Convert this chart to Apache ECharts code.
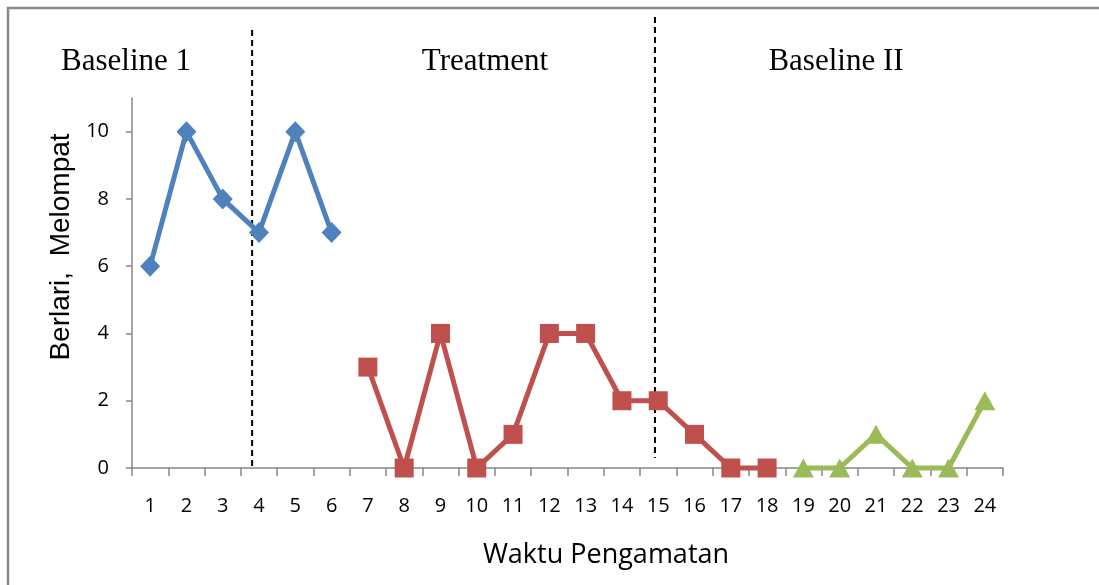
<!DOCTYPE html>
<html>
<head>
<meta charset="utf-8">
<script src="https://cdn.jsdelivr.net/npm/echarts@6/dist/echarts.min.js"></script>
<style>html,body{margin:0;padding:0;background:#fff;}#c{width:1099px;height:585px;}</style>
</head>
<body>
<div id="c"></div>
<script>
var categories = ['1','2','3','4','5','6','7','8','9','10','11','12','13','14','15','16','17','18','19','20','21','22','23','24'];
var baseline1 = [6,10,8,7,10,7];
var treatment = [3,0,4,0,1,4,4,2,2,1,0,0];
var baseline2 = [0,0,1,0,0,2];
var yTicks = [0,2,4,6,8,10];
var phaseNames = ['Baseline 1','Treatment','Baseline II'];
var xTitle = 'Waktu Pengamatan';
var yTitle = 'Berlari,  Melompat';

function pad(arr, start) {
  var out = [];
  for (var i = 0; i < categories.length; i++) {
    var j = i - start;
    out.push(j >= 0 && j < arr.length ? arr[j] : null);
  }
  return out;
}

var chart = echarts.init(document.getElementById('c'));
var axisColor = '#868686';
var tickFont = {fontFamily: 'Open Sans', fontSize: 20, color: '#000'};
chart.setOption({
  animation: false,
  backgroundColor: '#fff',
  grid: {left: 132, right: 96, top: 98, bottom: 117},
  xAxis: {
    type: 'category',
    data: categories,
    axisLine: {lineStyle: {color: axisColor, width: 1.5}},
    axisTick: {show: true, length: 8, lineStyle: {color: axisColor, width: 1.5}},
    axisLabel: Object.assign({margin: 28}, tickFont),
    splitLine: {show: false}
  },
  yAxis: {
    type: 'value',
    min: 0,
    max: 11,
    interval: 1,
    axisLine: {show: true, lineStyle: {color: axisColor, width: 1.5}},
    axisTick: {show: true, length: 6, customValues: yTicks, lineStyle: {color: axisColor, width: 1.5}},
    axisLabel: Object.assign({customValues: yTicks, margin: 23}, tickFont),
    splitLine: {show: false}
  },
  series: [
    {type: 'line', name: phaseNames[0], data: pad(baseline1, 0), clip: false,
     symbol: 'diamond', symbolSize: [20, 21], lineStyle: {width: 5, color: '#4F81BD'},
     itemStyle: {color: '#4F81BD'}, connectNulls: false},
    {type: 'line', name: phaseNames[1], data: pad(treatment, 6), clip: false,
     symbol: 'rect', symbolSize: 19, lineStyle: {width: 5, color: '#C0504D'},
     itemStyle: {color: '#C0504D'}, connectNulls: false},
    {type: 'line', name: phaseNames[2], data: pad(baseline2, 18), clip: false,
     symbol: 'triangle', symbolSize: [21, 19], lineStyle: {width: 5, color: '#9BBB59'},
     itemStyle: {color: '#9BBB59'}, connectNulls: false}
  ]
});

function px(i) { return chart.convertToPixel({xAxisIndex: 0}, categories[i]); }
function py(v) { return chart.convertToPixel({yAxisIndex: 0}, v); }
var d1 = px(2) + 0.81 * (px(3) - px(2));
var d2 = px(13) + 0.91 * (px(14) - px(13));
var labelFont = '31px "Liberation Serif"';

chart.setOption({
  graphic: [
    {type: 'rect', shape: {x: 8, y: 8, width: 1300, height: 800}, style: {fill: 'none', stroke: '#8a8a8a', lineWidth: 2.5}, silent: true},
    {type: 'line', shape: {x1: d1, y1: 30, x2: d1, y2: py(0)}, style: {stroke: '#000', lineWidth: 2, lineDash: [6, 4]}},
    {type: 'line', shape: {x1: d2, y1: 17, x2: d2, y2: 458}, style: {stroke: '#000', lineWidth: 2, lineDash: [6, 4]}},
    {type: 'text', x: 126, y: 62, style: {text: phaseNames[0], font: labelFont, fill: '#000', textAlign: 'center', textVerticalAlign: 'middle'}},
    {type: 'text', x: 485, y: 62, style: {text: phaseNames[1], font: labelFont, fill: '#000', textAlign: 'center', textVerticalAlign: 'middle'}},
    {type: 'text', x: 836, y: 62, style: {text: phaseNames[2], font: labelFont, fill: '#000', textAlign: 'center', textVerticalAlign: 'middle'}},
    {type: 'text', x: 606, y: 555, style: {text: xTitle, font: '27px "Open Sans"', fill: '#000', textAlign: 'center', textVerticalAlign: 'middle'}},
    {type: 'text', x: 61, y: 247, rotation: Math.PI / 2, style: {text: yTitle, font: '28px "Liberation Sans"', fill: '#000', textAlign: 'center', textVerticalAlign: 'middle'}}
  ]
});
</script>
</body>
</html>
